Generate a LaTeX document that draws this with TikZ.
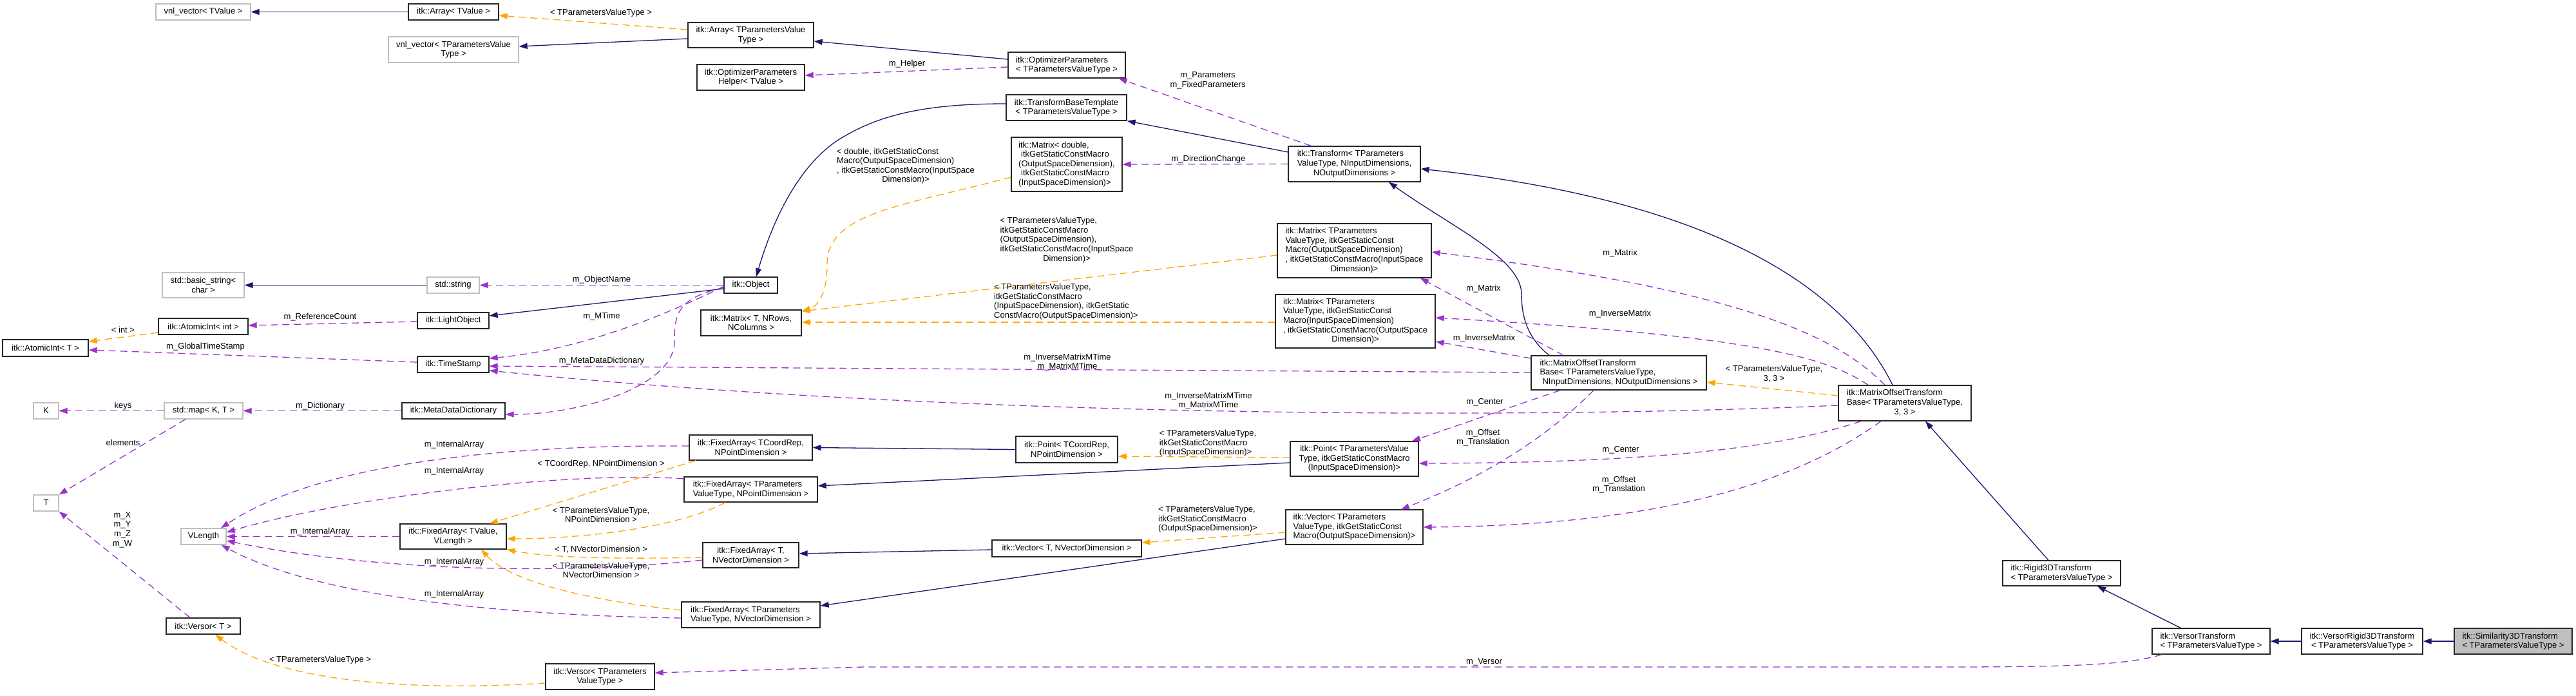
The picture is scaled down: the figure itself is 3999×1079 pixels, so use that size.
\documentclass[tikz,border=0pt]{standalone}
\usepackage{fontspec}
\setmainfont{Liberation Sans}
\usepackage{tikz}
\usetikzlibrary{arrows.meta}
\definecolor{edgenavy}{RGB}{25,25,112}
\definecolor{edgepurple}{RGB}{154,50,205}
\definecolor{edgeorange}{RGB}{255,165,0}
\definecolor{extgray}{RGB}{191,191,191}
\definecolor{selgray}{RGB}{191,191,191}
\newcommand{\dfont}{\fontsize{13}{14.6}\selectfont}
\newcommand{\mcline}[1]{\multicolumn{1}{@{}c@{}}{#1}}
\tikzset{
  cls/.style={rectangle, draw=black!85, fill=white, line width=1.3pt,
    inner sep=2pt, font=\dfont, align=center},
  ext/.style={cls, draw=extgray},
  sel/.style={cls, fill=selgray},
  inh/.style={-{Triangle[length=13pt,width=9pt]}, draw=edgenavy, line width=1.3pt},
  use/.style={-{Triangle[length=13pt,width=9pt]}, draw=edgepurple, line width=1.3pt,
    dash pattern=on 11pt off 7pt},
  tmpl/.style={-{Triangle[length=13pt,width=9pt]}, draw=edgeorange, line width=1.3pt,
    dash pattern=on 11pt off 7pt}
}

\begin{document}
\begin{tikzpicture}[x=1pt, y=-1pt, font=\dfont,
  lbl/.style={font=\dfont, align=center, inner sep=0pt}]
  \useasboundingbox (0,0) rectangle (3999,1079);

  % Classes, top part
  \node[ext, minimum width=147pt, minimum height=25pt] (vnlTValue) at (315.5,18.5) {vnl\_vector< TValue >};
  \node[cls, minimum width=140pt, minimum height=25pt] (arrTValue) at (704,18.5) {itk::Array< TValue >};
  \node[ext, minimum width=202pt, minimum height=40pt] (vnlTPVT) at (704,77) {vnl\_vector< TParametersValue\\Type >};
  \node[cls, minimum width=195pt, minimum height=39pt] (arrTPVT) at (1165.5,54.5) {itk::Array< TParametersValue\\Type >};
  \node[cls, minimum width=167pt, minimum height=40pt] (optHelper) at (1165.5,120) {itk::OptimizerParameters\\Helper< TValue >};
  \node[cls, align=left, minimum width=182pt, minimum height=40pt] (optParams) at (1656,101) {itk::OptimizerParameters\\< TParametersValueType >};
  \node[cls, minimum width=187pt, minimum height=40pt] (tbt) at (1655.5,167) {itk::TransformBaseTemplate\\< TParametersValueType >};
  \node[cls, align=left, minimum width=172pt, minimum height=84pt] (matDouble) at (1656,255) {itk::Matrix< double,\\\hspace*{4pt}itkGetStaticConstMacro\\(OutputSpaceDimension),\\\hspace*{4pt}itkGetStaticConstMacro\\(InputSpaceDimension)>};
  \node[cls, minimum width=205pt, minimum height=55pt] (transform) at (2102.5,254.5) {\begin{tabular}{@{}l@{}}itk::Transform< TParameters\\ValueType, NInputDimensions,\\\mcline{NOutputDimensions >}\end{tabular}};
  \node[cls, minimum width=239pt, minimum height=84pt] (matOI) at (2102.5,389) {\begin{tabular}{@{}l@{}}itk::Matrix< TParameters\\ValueType, itkGetStaticConst\\Macro(OutputSpaceDimension)\\, itkGetStaticConstMacro(InputSpace\\\mcline{Dimension)>}\end{tabular}};
  \node[cls, minimum width=248pt, minimum height=83pt] (matIO) at (2104,498.5) {\begin{tabular}{@{}l@{}}itk::Matrix< TParameters\\ValueType, itkGetStaticConst\\Macro(InputSpaceDimension)\\, itkGetStaticConstMacro(OutputSpace\\\mcline{Dimension)>}\end{tabular}};

  % Object hierarchy
  \node[cls, minimum width=83pt, minimum height=25pt] (object) at (1165.5,442.5) {itk::Object};
  \node[ext, minimum width=81pt, minimum height=25pt] (stdString) at (703.5,442.5) {std::string};
  \node[ext, minimum width=127pt, minimum height=39pt] (basicString) at (315.5,442.5) {std::basic\_string<\\char >};
  \node[cls, minimum width=111pt, minimum height=25pt] (lightObj) at (703.5,497.5) {itk::LightObject};
  \node[cls, minimum width=156pt, minimum height=40pt] (matT) at (1166,501) {itk::Matrix< T, NRows,\\NColumns >};
  \node[cls, minimum width=139pt, minimum height=25pt] (atomInt) at (315.5,506.5) {itk::AtomicInt< int >};
  \node[cls, minimum width=133pt, minimum height=26pt] (atomT) at (70.5,540) {itk::AtomicInt< T >};
  \node[cls, minimum width=111pt, minimum height=25pt] (timeStamp) at (703.5,565.5) {itk::TimeStamp};
  \node[ext, minimum width=39pt, minimum height=25pt] (keyK) at (71.5,637.5) {K};
  \node[ext, minimum width=122pt, minimum height=25pt] (stdMap) at (316,637.5) {std::map< K, T >};
  \node[cls, minimum width=160pt, minimum height=25pt] (mdd) at (704,637.5) {itk::MetaDataDictionary};
  \node[ext, minimum width=39pt, minimum height=25pt] (valT) at (71.5,780.5) {T};
  \node[ext, minimum width=70pt, minimum height=25pt] (vlength) at (316,832.5) {VLength};
  \node[cls, minimum width=115pt, minimum height=25pt] (versorT) at (315.5,971.5) {itk::Versor< T >};

  % Fixed arrays, points and vectors
  \node[cls, minimum width=191pt, minimum height=39pt] (faCoord) at (1165.5,694.5) {itk::FixedArray< TCoordRep,\\NPointDimension >};
  \node[cls, align=left, minimum width=207pt, minimum height=39pt] (faPVTPoint) at (1165.5,759.5) {itk::FixedArray< TParameters\\ValueType, NPointDimension >};
  \node[cls, minimum width=165pt, minimum height=39pt] (faTValue) at (703.5,832.5) {itk::FixedArray< TValue,\\VLength >};
  \node[cls, minimum width=149pt, minimum height=39pt] (faTVec) at (1165.5,861.5) {itk::FixedArray< T,\\NVectorDimension >};
  \node[cls, align=left, minimum width=215pt, minimum height=40pt] (faPVTVec) at (1165.5,954) {itk::FixedArray< TParameters\\ValueType, NVectorDimension >};
  \node[cls, minimum width=169pt, minimum height=40pt] (versorPVT) at (931.5,1050) {itk::Versor< TParameters\\ValueType >};
  \node[cls, minimum width=158pt, minimum height=41pt] (pointCoord) at (1656,697.5) {itk::Point< TCoordRep,\\NPointDimension >};
  \node[cls, minimum width=232pt, minimum height=26pt] (vectorT) at (1656,851) {itk::Vector< T, NVectorDimension >};
  \node[cls, align=left, minimum width=272pt, minimum height=53pt] (motbN) at (2513,578.5) {itk::MatrixOffsetTransform\\Base< TParametersValueType,\\\hspace*{4pt}NInputDimensions, NOutputDimensions >};
  \node[cls, minimum width=199pt, minimum height=54pt] (pointPVT) at (2102.5,712) {itk::Point< TParametersValue\\Type, itkGetStaticConstMacro\\(InputSpaceDimension)>};
  \node[cls, align=left, minimum width=213pt, minimum height=54pt] (vectorPVT) at (2102.5,818) {itk::Vector< TParameters\\ValueType, itkGetStaticConst\\Macro(OutputSpaceDimension)>};

  % Right-hand chain
  \node[cls, minimum width=206pt, minimum height=55pt] (motb33) at (2957,625.5) {\begin{tabular}{@{}l@{}}itk::MatrixOffsetTransform\\Base< TParametersValueType,\\\mcline{3, 3 >}\end{tabular}};
  \node[cls, align=left, minimum width=183pt, minimum height=39pt] (rigid) at (3200.5,889.5) {itk::Rigid3DTransform\\< TParametersValueType >};
  \node[cls, align=left, minimum width=183pt, minimum height=40pt] (versorTr) at (3432.5,995) {itk::VersorTransform\\< TParametersValueType >};
  \node[cls, minimum width=188pt, minimum height=40pt] (versorRigid) at (3667,995) {itk::VersorRigid3DTransform\\< TParametersValueType >};
  \node[sel, align=left, minimum width=183pt, minimum height=40pt] (similarity) at (3901.5,995) {itk::Similarity3DTransform\\< TParametersValueType >};

  % Inheritance
  \draw[inh] (arrTValue.west) -- (vnlTValue.east);
  \draw[inh] ([yshift=-5.5pt]arrTPVT.west) -- ([yshift=5pt]vnlTPVT.east);
  \draw[inh] ([yshift=9pt]optParams.west) -- ([yshift=-9.5pt]arrTPVT.east);
  \draw[inh] ([yshift=18.5pt]transform.west) -- (tbt.south east);
  \draw[inh] ([yshift=6pt]tbt.west) .. controls (1430,161) and (1360,180) .. (1300,218)
    .. controls (1240,258) and (1200,340) .. ([xshift=8.5pt]object.north);
  \draw[inh] ([yshift=-5.5pt]object.west) -- ([yshift=7.5pt]lightObj.east);
  \draw[inh] (stdString.west) -- (basicString.east);
  \draw[inh] (pointCoord.west) -- (faCoord.east);
  \draw[inh] ([yshift=-6pt]pointPVT.west) -- ([yshift=5.5pt]faPVTPoint.east);
  \draw[inh] ([yshift=-2pt]vectorT.west) -- ([yshift=2.5pt]faTVec.east);
  \draw[inh] ([yshift=-18pt]vectorPVT.west) -- ([yshift=14pt]faPVTVec.east);
  \draw[inh] ([xshift=-108pt]motbN.north) .. controls (2365,520) and (2362,480) .. (2362,455)
    .. controls (2360,400) and (2250,350) .. ([xshift=53.5pt]transform.south);
  \draw[inh] ([xshift=-19pt]motb33.north) .. controls (2860,440) and (2650,310) .. ([yshift=-7.5pt]transform.east);
  \draw[inh] ([xshift=-20.5pt]rigid.north) -- ([xshift=32pt]motb33.south);
  \draw[inh] ([xshift=-47.5pt]versorTr.north) -- ([xshift=55.5pt]rigid.south);
  \draw[inh] (versorRigid.west) -- (versorTr.east);
  \draw[inh] (similarity.west) -- (versorRigid.east);

  % Members
  \draw[use] ([yshift=-3pt]optParams.west) -- ([yshift=3pt]optHelper.east);
  \draw[use] ([xshift=36pt]transform.north west) -- ([xshift=-11pt]optParams.south east);
  \draw[use] (transform.west) -- (matDouble.east);
  \draw[use] (object.west) -- (stdString.east);
  \draw[use] ([yshift=-2pt]object.west) .. controls (1000,505) and (880,545) .. ([yshift=9.5pt]timeStamp.east);
  \draw[use] ([yshift=-4pt]object.west) .. controls (1050,462) and (1047,490) .. (1047,530)
    .. controls (1047,600) and (900,643) .. ([yshift=-5.5pt]mdd.east);
  \draw[use] ([yshift=-1.5pt]lightObj.west) -- ([yshift=1.5pt]atomInt.east);
  \draw[use] ([yshift=3.5pt]timeStamp.west) -- ([yshift=-3pt]atomT.east);
  \draw[use] (mdd.west) -- (stdMap.east);
  \draw[use] (stdMap.west) -- (keyK.east);
  \draw[use] ([xshift=-28pt]stdMap.south) -- (valT.north east);
  \draw[use] ([xshift=-20.5pt]versorT.north) -- (valT.south east);
  \draw[use] (faTValue.west) -- (vlength.east);
  \draw[use] ([yshift=2.5pt]faCoord.west) .. controls (800,690) and (500,715) .. ([xshift=27pt]vlength.north);
  \draw[use] ([yshift=16.5pt]faPVTPoint.west) .. controls (900,730) and (540,770) .. ([yshift=6.5pt]vlength.east);
  \draw[use] ([yshift=-7.5pt]faTVec.west) .. controls (900,890) and (600,890) .. ([yshift=-6.5pt]vlength.east);
  \draw[use] ([yshift=-5pt]faPVTVec.west) .. controls (800,955) and (500,930) .. ([xshift=-8pt]vlength.south east);
  \draw[use] ([xshift=-86pt]motbN.north) -- ([xshift=102.5pt]matOI.south);
  \draw[use] ([yshift=22.5pt]motbN.west) -- ([yshift=-31.5pt]matIO.east);
  \draw[use] ([yshift=0.5pt]motbN.west) -- ([yshift=-2.5pt]timeStamp.east);
  \draw[use] ([xshift=-91pt]motbN.south) -- ([xshift=89.5pt]pointPVT.north);
  \draw[use] ([xshift=-39pt]motbN.south) .. controls (2420,660) and (2330,730) .. ([xshift=72.5pt]vectorPVT.north);
  \draw[use] ([yshift=-3.5pt]motb33.west) .. controls (2400,650) and (1500,650) .. ([yshift=-9.5pt]timeStamp.east);
  \draw[use] ([xshift=-68pt]motb33.south) .. controls (2780,690) and (2600,718) .. ([yshift=-7pt]pointPVT.east);
  \draw[use] ([xshift=-37pt]motb33.south) .. controls (2800,740) and (2600,815) .. (vectorPVT.east);
  \draw[use] ([xshift=-31pt]motb33.north) .. controls (2850,520) and (2700,450) .. ([yshift=-2pt]matOI.east);
  \draw[use] ([xshift=-57pt]motb33.north) .. controls (2830,550) and (2700,520) .. ([yshift=5.5pt]matIO.east);
  \draw[use] ([xshift=-76.5pt]versorTr.south) .. controls (3300,1033) and (3200,1035) .. (3000,1035)
    -- (1340,1035) -- ([yshift=6pt]versorPVT.east);

  % Template instances
  \draw[tmpl] ([yshift=8.5pt]arrTPVT.west) -- ([yshift=-5.5pt]arrTValue.east);
  \draw[tmpl] ([yshift=-20pt]matDouble.west) .. controls (1400,320) and (1284,330) .. (1284,410)
    .. controls (1284,455) and (1270,475) .. ([yshift=18pt]matT.east);
  \draw[tmpl] ([yshift=-7pt]matOI.west) -- ([yshift=18pt]matT.east);
  \draw[tmpl] ([yshift=-1.5pt]matIO.west) -- ([yshift=1pt]matT.east);
  \draw[tmpl] ([yshift=-9.5pt]atomInt.west) -- ([yshift=10pt]atomT.east);
  \draw[tmpl] ([yshift=-10pt]versorPVT.west) .. controls (600,1075) and (420,1050) .. ([xshift=18.5pt]versorT.south);
  \draw[tmpl] ([xshift=11pt]faCoord.south west) -- ([xshift=56.5pt]faTValue.north);
  \draw[tmpl] ([xshift=-39.5pt]faPVTPoint.south) .. controls (1050,820) and (900,836) .. ([yshift=-3.5pt]faTValue.east);
  \draw[tmpl] ([yshift=-3.5pt]faTVec.west) .. controls (950,868) and (850,865) .. (faTValue.south east);
  \draw[tmpl] ([yshift=7pt]faPVTVec.west) .. controls (900,930) and (790,900) .. ([xshift=43.5pt]faTValue.south);
  \draw[tmpl] ([yshift=2pt]pointPVT.west) -- ([yshift=-10.5pt]pointCoord.east);
  \draw[tmpl] ([yshift=-8pt]vectorPVT.west) -- ([yshift=9pt]vectorT.east);
  \draw[tmpl] ([yshift=11.5pt]motb33.west) -- ([yshift=-14.5pt]motbN.east);

  % Edge labels
  \node[lbl] (lArrT) at (933,20) {< TParametersValueType >};
  \node[lbl] (lHelper) at (1408,99) {m\_Helper};
  \node[lbl] (lParams) at (1875,125) {m\_Parameters\\m\_FixedParameters};
  \node[lbl] (lMatDbl) at (1406,258) {\begin{tabular}{@{}l@{}}< double, itkGetStaticConst\\Macro(OutputSpaceDimension)\\, itkGetStaticConstMacro(InputSpace\\\mcline{Dimension)>}\end{tabular}};
  \node[lbl] (lDirChange) at (1876,247) {m\_DirectionChange};
  \node[lbl] (lMatOI) at (1656,373) {\begin{tabular}{@{}l@{}}< TParametersValueType,\\itkGetStaticConstMacro\\(OutputSpaceDimension),\\itkGetStaticConstMacro(InputSpace\\\mcline{Dimension)>}\end{tabular}};
  \node[lbl, align=left] (lMatIO) at (1655,468) {< TParametersValueType,\\itkGetStaticConstMacro\\(InputSpaceDimension), itkGetStatic\\ConstMacro(OutputSpaceDimension)>};
  \node[lbl] (lObjName) at (934,434) {m\_ObjectName};
  \node[lbl] (lMTime) at (934,491) {m\_MTime};
  \node[lbl] (lRefCount) at (497,492) {m\_ReferenceCount};
  \node[lbl] (lInt) at (191,512) {< int >};
  \node[lbl] (lGlobal) at (319,538) {m\_GlobalTimeStamp};
  \node[lbl] (lMDD) at (934,560) {m\_MetaDataDictionary};
  \node[lbl] (lMTimeN) at (1657,562) {m\_InverseMatrixMTime\\m\_MatrixMTime};
  \node[lbl] (lMTime33) at (1876,622) {m\_InverseMatrixMTime\\m\_MatrixMTime};
  \node[lbl] (lDict) at (497,630) {m\_Dictionary};
  \node[lbl] (lKeys) at (191,630) {keys};
  \node[lbl] (lElem) at (191,687) {elements};
  \node[lbl] (lIntArrA) at (705,690) {m\_InternalArray};
  \node[lbl] (lIntArrB) at (705,731) {m\_InternalArray};
  \node[lbl] (lIntArrC) at (497,825) {m\_InternalArray};
  \node[lbl] (lIntArrD) at (705,872) {m\_InternalArray};
  \node[lbl] (lIntArrE) at (705,922) {m\_InternalArray};
  \node[lbl] (lFaCoord) at (933,720) {< TCoordRep, NPointDimension >};
  \node[lbl] (lFaPoint) at (933,799) {< TParametersValueType,\\NPointDimension >};
  \node[lbl] (lFaTVec) at (933,853) {< T, NVectorDimension >};
  \node[lbl] (lFaVec) at (933,885) {< TParametersValueType,\\NVectorDimension >};
  \node[lbl] (lXYZW) at (190,822) {m\_X\\m\_Y\\m\_Z\\m\_W};
  \node[lbl] (lVersor) at (497,1024) {< TParametersValueType >};
  \node[lbl] (lVersorM) at (2304,1027) {m\_Versor};
  \node[lbl, align=left] (lPoint) at (1875,688) {< TParametersValueType,\\itkGetStaticConstMacro\\(InputSpaceDimension)>};
  \node[lbl, align=left] (lVector) at (1875,806) {< TParametersValueType,\\itkGetStaticConstMacro\\(OutputSpaceDimension)>};
  \node[lbl] (lMat33) at (2515,393) {m\_Matrix};
  \node[lbl] (lMatN) at (2303,448) {m\_Matrix};
  \node[lbl] (lInv33) at (2515,487) {m\_InverseMatrix};
  \node[lbl] (lInvN) at (2304,525) {m\_InverseMatrix};
  \node[lbl] (l33) at (2754,580) {< TParametersValueType,\\3, 3 >};
  \node[lbl] (lCenterN) at (2305,624) {m\_Center};
  \node[lbl] (lCenter33) at (2516,698) {m\_Center};
  \node[lbl] (lOffsetN) at (2302,679) {m\_Offset\\m\_Translation};
  \node[lbl] (lOffset33) at (2513,752) {m\_Offset\\m\_Translation};
\end{tikzpicture}
\end{document}
